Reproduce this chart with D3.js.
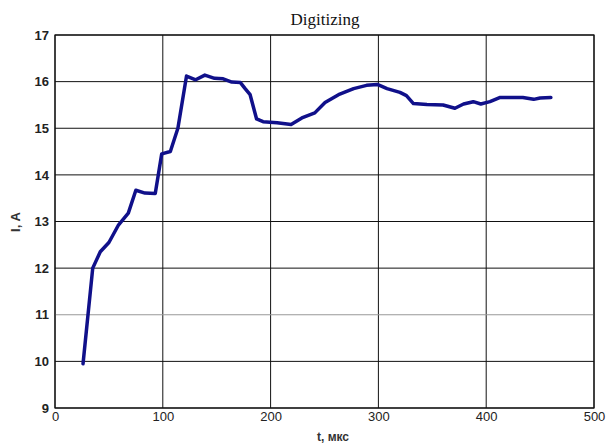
<!DOCTYPE html>
<html><head><meta charset="utf-8">
<script src="https://cdn.jsdelivr.net/npm/d3@7/dist/d3.min.js"></script>
<style>body{margin:0;background:#fff}svg{display:block}</style>
</head><body>
<svg id="c" width="610" height="446"></svg>
<script>
const tValues = [26,35,42,50,59,68,75,83.5,93,99,107,114,122,130.5,139,148,156,164,172,176,181,187,193,206,219,229,241,250.5,263,277,289,299,308,320,326,332.5,345,360,371,379,388,395,403.5,413,434,444,450,460];
const iValues = [9.95,12.0,12.35,12.55,12.93,13.18,13.67,13.61,13.6,14.45,14.5,15.0,16.12,16.04,16.14,16.07,16.06,15.99,15.98,15.86,15.72,15.2,15.14,15.12,15.08,15.22,15.33,15.55,15.72,15.85,15.92,15.94,15.85,15.77,15.7,15.53,15.51,15.5,15.43,15.52,15.57,15.52,15.57,15.66,15.66,15.62,15.65,15.66];
const xTicks = [0,100,200,300,400,500];
const yTicks = [9,10,11,12,13,14,15,16,17];

const svg = d3.select("#c");
const L=55, R=594, T=35, B=408;
const x = d3.scaleLinear().domain([0,500]).range([L,R]);
const y = d3.scaleLinear().domain([9,17]).range([B,T]);

// grid
svg.append("g").selectAll("line").data(xTicks).join("line")
  .attr("x1",d=>x(d)).attr("x2",d=>x(d)).attr("y1",T).attr("y2",B)
  .attr("stroke","#111").attr("stroke-width",1);
svg.append("g").selectAll("line").data(yTicks).join("line")
  .attr("x1",L).attr("x2",R).attr("y1",d=>y(d)).attr("y2",d=>y(d))
  .attr("stroke",d=>d===11?"#999":"#111").attr("stroke-width",1);
svg.append("rect").attr("x",L).attr("y",T).attr("width",R-L).attr("height",B-T)
  .attr("fill","none").attr("stroke","#111").attr("stroke-width",1.2);

// axes labels
const xAxis = d3.axisBottom(x).tickValues(xTicks).tickSize(0).tickPadding(4);
const gx = svg.append("g").attr("transform",`translate(0,${B})`).call(xAxis);
gx.select(".domain").remove();
gx.selectAll("text").attr("font-family","Liberation Sans, Arial, sans-serif").attr("font-size",13).attr("fill","#222");

const yAxis = d3.axisLeft(y).tickValues(yTicks).tickSize(0).tickPadding(6);
const gy = svg.append("g").attr("transform",`translate(${L},0)`).call(yAxis);
gy.select(".domain").remove();
gy.selectAll("text").attr("font-family","Liberation Sans, Arial, sans-serif").attr("font-size",13).attr("font-weight","bold").attr("fill","#222");

// line
const line = d3.line().x((d,i)=>x(tValues[i])).y(d=>y(d));
svg.append("path").datum(iValues).attr("d",line)
  .attr("fill","none").attr("stroke","#10108a").attr("stroke-width",3.5)
  .attr("stroke-linejoin","round").attr("stroke-linecap","round");

// titles
svg.append("text").attr("x",325).attr("y",25).attr("text-anchor","middle")
  .attr("font-family","Liberation Serif, Times New Roman, serif").attr("font-size",17).attr("fill","#111")
  .text("Digitizing");
svg.append("text").attr("x",333).attr("y",441).attr("text-anchor","middle")
  .attr("font-family","Liberation Sans, Arial, sans-serif").attr("font-size",12).attr("font-weight","bold").attr("fill","#333")
  .text("t, мкс");
svg.append("text").attr("transform","translate(20,222) rotate(-90)").attr("text-anchor","middle")
  .attr("font-family","Liberation Sans, Arial, sans-serif").attr("font-size",13).attr("font-weight","bold").attr("fill","#333")
  .text("I, A");
</script>
</body></html>
